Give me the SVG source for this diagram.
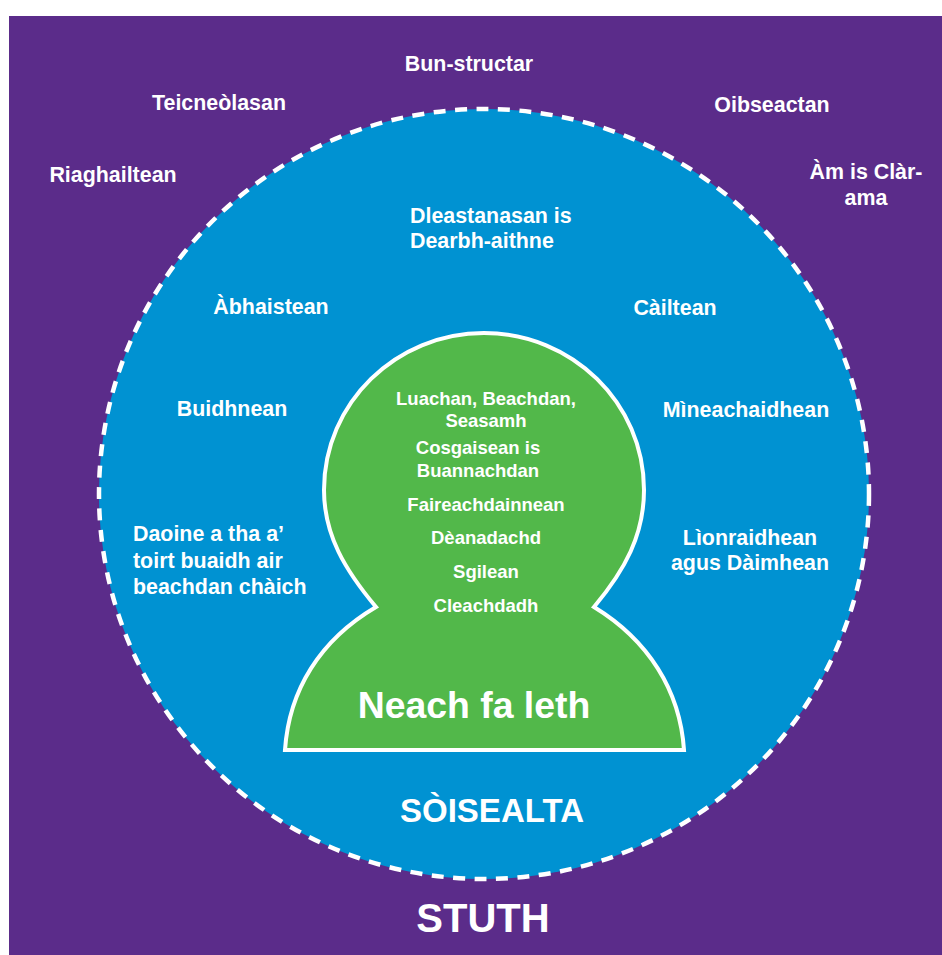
<svg xmlns="http://www.w3.org/2000/svg" width="942" height="955" viewBox="0 0 942 955">
<style>
text{font-family:"Liberation Sans",Arial,sans-serif;font-weight:700;fill:#fff;font-size:21.4px}
.s{font-size:18.5px}
</style>
<rect width="942" height="955" fill="#fff"/>
<rect x="9" y="16" width="933" height="939" fill="#5b2c8a"/>
<g id="sosealta"><circle cx="484" cy="494" r="385" fill="#0092d2" stroke="#fff" stroke-width="4.5" stroke-dasharray="12 9.5"/></g>
<g id="neach"><path d="M376 607C345 570 324 535 324 490C324 403 396 333 484 333C572 333 644 403 644 490C644 535 625 570 594 607C648 640 680 690 684 750L285 750C289 690 320 640 376 607Z" fill="#52b84a" stroke="#fff" stroke-width="4"/></g>
<g id="labels">
<text x="469" y="71" text-anchor="middle">Bun-structar</text>
<text x="219" y="110" text-anchor="middle">Teicneòlasan</text>
<text x="772" y="112" text-anchor="middle">Oibseactan</text>
<text x="113" y="182" text-anchor="middle">Riaghailtean</text>
<text x="866" y="179" text-anchor="middle">Àm is Clàr-</text>
<text x="866" y="205" text-anchor="middle">ama</text>
<text x="410" y="223">Dleastanasan is</text>
<text x="410" y="248">Dearbh-aithne</text>
<text x="271" y="314" text-anchor="middle">Àbhaistean</text>
<text x="675" y="315" text-anchor="middle">Càiltean</text>
<text x="232" y="416" text-anchor="middle">Buidhnean</text>
<text x="746" y="417" text-anchor="middle">Mìneachaidhean</text>
<text x="133" y="541">Daoine a tha a’</text>
<text x="133" y="568">toirt buaidh air</text>
<text x="133" y="594">beachdan chàich</text>
<text x="750" y="545" text-anchor="middle">Lìonraidhean</text>
<text x="750" y="570" text-anchor="middle">agus Dàimhean</text>
<text class="s" x="486" y="405" text-anchor="middle">Luachan, Beachdan,</text>
<text class="s" x="486" y="427" text-anchor="middle">Seasamh</text>
<text class="s" x="478" y="454" text-anchor="middle">Cosgaisean is</text>
<text class="s" x="478" y="477" text-anchor="middle">Buannachdan</text>
<text class="s" x="486" y="511" text-anchor="middle">Faireachdainnean</text>
<text class="s" x="486" y="544" text-anchor="middle">Dèanadachd</text>
<text class="s" x="486" y="578" text-anchor="middle">Sgilean</text>
<text class="s" x="486" y="612" text-anchor="middle">Cleachdadh</text>
<text x="474" y="718" text-anchor="middle" style="font-size:37.4px">Neach fa leth</text>
<text x="492" y="822" text-anchor="middle" style="font-size:33px">SÒISEALTA</text>
<text x="483" y="932" text-anchor="middle" style="font-size:40px">STUTH</text>
</g>
</svg>
